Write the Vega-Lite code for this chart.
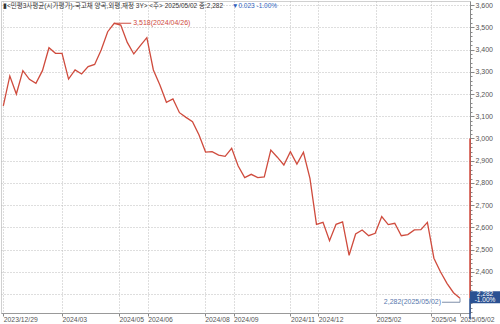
{
  "$schema": "https://vega.github.io/schema/vega-lite/v6.json",
  "width": 469,
  "height": 312,
  "autosize": {"type": "none"},
  "padding": {"left": 1, "top": 1, "right": 30, "bottom": 11},
  "background": "white",
  "config": {"view": {"stroke": "#d0d0d0"}, "font": "Liberation Sans, Noto Sans CJK KR"},
  "datasets": {
    "weekly": [
      {"date": "2023-12-29T00:00", "value": 3147},
      {"date": "2024-01-05T00:00", "value": 3281},
      {"date": "2024-01-12T00:00", "value": 3200},
      {"date": "2024-01-19T00:00", "value": 3305},
      {"date": "2024-01-26T00:00", "value": 3266},
      {"date": "2024-02-02T00:00", "value": 3248},
      {"date": "2024-02-09T00:00", "value": 3305},
      {"date": "2024-02-16T00:00", "value": 3408},
      {"date": "2024-02-23T00:00", "value": 3383},
      {"date": "2024-03-01T00:00", "value": 3383},
      {"date": "2024-03-08T00:00", "value": 3267},
      {"date": "2024-03-15T00:00", "value": 3308},
      {"date": "2024-03-22T00:00", "value": 3290},
      {"date": "2024-03-29T00:00", "value": 3323},
      {"date": "2024-04-05T00:00", "value": 3333},
      {"date": "2024-04-12T00:00", "value": 3398},
      {"date": "2024-04-19T00:00", "value": 3480},
      {"date": "2024-04-26T00:00", "value": 3518},
      {"date": "2024-05-03T00:00", "value": 3510},
      {"date": "2024-05-10T00:00", "value": 3432},
      {"date": "2024-05-17T00:00", "value": 3380},
      {"date": "2024-05-24T00:00", "value": 3417},
      {"date": "2024-05-31T00:00", "value": 3453},
      {"date": "2024-06-07T00:00", "value": 3308},
      {"date": "2024-06-14T00:00", "value": 3240},
      {"date": "2024-06-21T00:00", "value": 3163},
      {"date": "2024-06-28T00:00", "value": 3178},
      {"date": "2024-07-05T00:00", "value": 3116},
      {"date": "2024-07-12T00:00", "value": 3095},
      {"date": "2024-07-19T00:00", "value": 3076},
      {"date": "2024-07-26T00:00", "value": 3016},
      {"date": "2024-08-02T00:00", "value": 2939},
      {"date": "2024-08-09T00:00", "value": 2941},
      {"date": "2024-08-16T00:00", "value": 2925},
      {"date": "2024-08-23T00:00", "value": 2920},
      {"date": "2024-08-30T00:00", "value": 2956},
      {"date": "2024-09-06T00:00", "value": 2876},
      {"date": "2024-09-13T00:00", "value": 2824},
      {"date": "2024-09-20T00:00", "value": 2839},
      {"date": "2024-09-27T00:00", "value": 2824},
      {"date": "2024-10-04T00:00", "value": 2827},
      {"date": "2024-10-11T00:00", "value": 2948},
      {"date": "2024-10-18T00:00", "value": 2916},
      {"date": "2024-10-25T00:00", "value": 2881},
      {"date": "2024-11-01T00:00", "value": 2941},
      {"date": "2024-11-08T00:00", "value": 2885},
      {"date": "2024-11-15T00:00", "value": 2938},
      {"date": "2024-11-22T00:00", "value": 2821},
      {"date": "2024-11-29T00:00", "value": 2614},
      {"date": "2024-12-06T00:00", "value": 2623},
      {"date": "2024-12-13T00:00", "value": 2541},
      {"date": "2024-12-20T00:00", "value": 2614},
      {"date": "2024-12-27T00:00", "value": 2625},
      {"date": "2025-01-03T00:00", "value": 2475},
      {"date": "2025-01-10T00:00", "value": 2571},
      {"date": "2025-01-17T00:00", "value": 2589},
      {"date": "2025-01-24T00:00", "value": 2563},
      {"date": "2025-01-31T00:00", "value": 2574},
      {"date": "2025-02-07T00:00", "value": 2649},
      {"date": "2025-02-14T00:00", "value": 2613},
      {"date": "2025-02-21T00:00", "value": 2619},
      {"date": "2025-02-28T00:00", "value": 2563},
      {"date": "2025-03-07T00:00", "value": 2568},
      {"date": "2025-03-14T00:00", "value": 2589},
      {"date": "2025-03-21T00:00", "value": 2590},
      {"date": "2025-03-28T00:00", "value": 2623},
      {"date": "2025-04-04T00:00", "value": 2462},
      {"date": "2025-04-11T00:00", "value": 2401},
      {"date": "2025-04-18T00:00", "value": 2349},
      {"date": "2025-04-25T00:00", "value": 2307},
      {"date": "2025-05-02T00:00", "value": 2282}
    ]
  },
  "layer": [
    {
      "data": {"name": "weekly"},
      "mark": {"type": "line", "color": "#cf4b3d", "strokeWidth": 1.3},
      "encoding": {
        "x": {
          "field": "date", "type": "temporal",
          "scale": {"domain": [
            {"year": 2023, "month": 12, "date": 26, "hours": 12, "minutes": 40},
            {"year": 2025, "month": 5, "date": 12, "hours": 17}
          ]},
          "axis": {
            "title": null,
            "tickCount": 100,
            "values": [
              {"year": 2023, "month": 12, "date": 29},
              {"year": 2024, "month": 3, "date": 1},
              {"year": 2024, "month": 5, "date": 1},
              {"year": 2024, "month": 6, "date": 1},
              {"year": 2024, "month": 8, "date": 1},
              {"year": 2024, "month": 9, "date": 1},
              {"year": 2024, "month": 11, "date": 1},
              {"year": 2024, "month": 12, "date": 1},
              {"year": 2025, "month": 2, "date": 1},
              {"year": 2025, "month": 4, "date": 1},
              {"year": 2025, "month": 5, "date": 2}
            ],
            "labelExpr": "(year(datum.value) == 2023 || (year(datum.value) == 2025 && month(datum.value) == 4)) ? timeFormat(datum.value, '%Y/%m/%d') : timeFormat(datum.value, '%Y/%m')",
            "labelAlign": "left",
            "labelBaseline": "top",
            "labelFlush": false,
            "labelOverlap": false,
            "labelFont": "Liberation Sans",
            "labelFontSize": 6.8,
            "labelColor": "#555555",
            "labelPadding": 0,
            "tickSize": 3,
            "tickColor": "#888888",
            "domainColor": "#999999",
            "grid": true,
            "gridDash": [1, 2],
            "gridColor": "#bdbdbd",
            "gridOpacity": {"condition": {"test": "year(datum.value) == 2025 && month(datum.value) == 4", "value": 0}, "value": 1}
          }
        },
        "y": {
          "field": "value", "type": "quantitative",
          "scale": {"domain": [2215.7, 3618], "nice": false, "zero": false},
          "axis": {
            "title": null,
            "orient": "right",
            "tickCount": 200,
            "values": [2220, 2240, 2260, 2280, 2300, 2320, 2340, 2360, 2380, 2400, 2420, 2440, 2460, 2480, 2500, 2520, 2540, 2560, 2580, 2600, 2620, 2640, 2660, 2680, 2700, 2720, 2740, 2760, 2780, 2800, 2820, 2840, 2860, 2880, 2900, 2920, 2940, 2960, 2980, 3000, 3020, 3040, 3060, 3080, 3100, 3120, 3140, 3160, 3180, 3200, 3220, 3240, 3260, 3280, 3300, 3320, 3340, 3360, 3380, 3400, 3420, 3440, 3460, 3480, 3500, 3520, 3540, 3560, 3580, 3600],
            "labelExpr": "(datum.value % 100 == 0 && datum.value != 2300) ? format(datum.value, ',') : ''",
            "labelOverlap": false,
            "labelFont": "Liberation Sans",
            "labelFontSize": 7,
            "labelColor": "#555555",
            "labelPadding": 1,
            "tickSize": {"condition": {"test": "datum.value % 100 == 0", "value": 4}, "value": 2},
            "tickColor": "#888888",
            "domainColor": "#888888",
            "grid": true,
            "gridDash": [1, 2],
            "gridColor": "#bdbdbd",
            "gridOpacity": {"condition": {"test": "datum.value % 100 == 0", "value": 1}, "value": 0}
          }
        }
      }
    },
    {
      "data": {"values": [{"date": "2024-04-26T00:00", "value": 3518, "label": "3,518(2024/04/26)"}]},
      "layer": [
        {
          "mark": {"type": "rule", "color": "#cf4b3d", "strokeWidth": 1, "x2Offset": 17},
          "encoding": {
            "x": {"field": "date", "type": "temporal", "title": null},
            "x2": {"field": "date"},
            "y": {"field": "value", "type": "quantitative", "title": null}
          }
        },
        {
          "mark": {"type": "text", "color": "#cf4b3d", "align": "left", "baseline": "middle", "dx": 19, "fontSize": 7, "font": "Liberation Sans"},
          "encoding": {
            "x": {"field": "date", "type": "temporal", "title": null},
            "y": {"field": "value", "type": "quantitative", "title": null},
            "text": {"field": "label"}
          }
        }
      ]
    },
    {
      "data": {"values": [{"date": "2025-05-02T00:00", "value": 2282, "label": "2,282(2025/05/02)"}]},
      "layer": [
        {
          "mark": {"type": "rule", "color": "#7f8fa8", "strokeWidth": 1, "xOffset": -18, "x2Offset": 0, "yOffset": 4},
          "encoding": {
            "x": {"field": "date", "type": "temporal", "title": null},
            "x2": {"field": "date"},
            "y": {"field": "value", "type": "quantitative", "title": null}
          }
        },
        {
          "mark": {"type": "rule", "color": "#7f8fa8", "strokeWidth": 1, "y2Offset": 4},
          "encoding": {
            "x": {"field": "date", "type": "temporal", "title": null},
            "y": {"field": "value", "type": "quantitative", "title": null},
            "y2": {"field": "value"}
          }
        },
        {
          "mark": {"type": "text", "color": "#5878ad", "align": "right", "baseline": "middle", "dx": -19, "dy": 4, "fontSize": 7, "font": "Liberation Sans"},
          "encoding": {
            "x": {"field": "date", "type": "temporal", "title": null},
            "y": {"field": "value", "type": "quantitative", "title": null},
            "text": {"field": "label"}
          }
        }
      ]
    },
    {
      "data": {"values": [{"date": "2025-05-12T17:00", "top": 3000, "last": 2282, "bottom": 2215.7, "label": ["2,282", "-1.00%"]}]},
      "layer": [
        {
          "mark": {"type": "rule", "color": "#d0473a", "strokeWidth": 1.5},
          "encoding": {
            "x": {"field": "date", "type": "temporal", "title": null},
            "y": {"field": "top", "type": "quantitative", "title": null},
            "y2": {"field": "last"}
          }
        },
        {
          "mark": {"type": "rule", "color": "#2a4f8f", "strokeWidth": 1.5, "y2Offset": 6},
          "encoding": {
            "x": {"field": "date", "type": "temporal", "title": null},
            "y": {"field": "last", "type": "quantitative", "title": null},
            "y2": {"field": "bottom"}
          }
        },
        {
          "mark": {"type": "rect", "color": "#2b5192", "x2Offset": 30, "yOffset": -7, "y2Offset": 5},
          "encoding": {
            "x": {"field": "date", "type": "temporal", "title": null},
            "x2": {"field": "date"},
            "y": {"field": "last", "type": "quantitative", "title": null},
            "y2": {"field": "last"}
          }
        },
        {
          "mark": {"type": "text", "color": "white", "align": "center", "baseline": "middle", "dx": 15, "dy": -4.5, "fontSize": 6.5, "lineHeight": 6.5, "font": "Liberation Sans"},
          "encoding": {
            "x": {"field": "date", "type": "temporal", "title": null},
            "y": {"field": "last", "type": "quantitative", "title": null},
            "text": {"field": "label"}
          }
        }
      ]
    },
    {
      "data": {"values": [{"date": "2023-12-26T12:40", "value": 3618, "head": "▮<민평3사평균(시가평가)-국고채 양곡,외평,재정 3Y> <주> 2025/05/02 종:2,282", "chg": "▼0.023  -1.00%"}]},
      "layer": [
        {
          "mark": {"type": "text", "color": "#333333", "align": "left", "baseline": "middle", "dx": 2, "dy": 5, "fontSize": 6.5},
          "encoding": {
            "x": {"field": "date", "type": "temporal", "title": null},
            "y": {"field": "value", "type": "quantitative", "title": null},
            "text": {"field": "head"}
          }
        },
        {
          "mark": {"type": "text", "color": "#2f5fbf", "align": "left", "baseline": "middle", "dx": 231, "dy": 5, "fontSize": 6.5},
          "encoding": {
            "x": {"field": "date", "type": "temporal", "title": null},
            "y": {"field": "value", "type": "quantitative", "title": null},
            "text": {"field": "chg"}
          }
        }
      ]
    }
  ]
}
